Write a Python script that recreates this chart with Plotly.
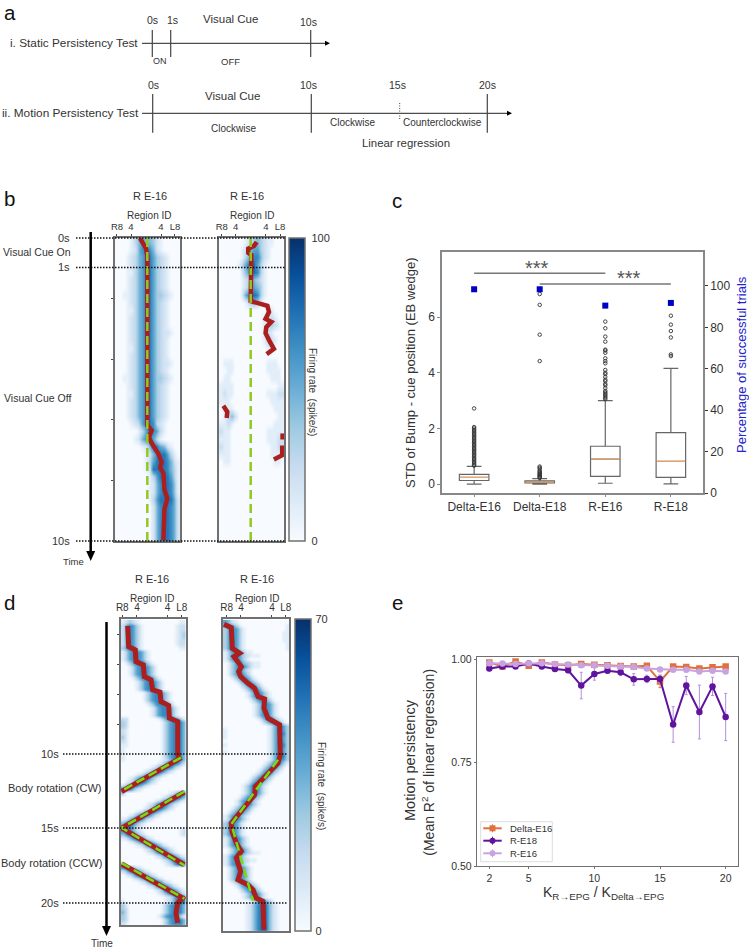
import plotly.graph_objects as go

W, H = 749, 950
FONT = "Liberation Sans"
TXT = "#333333"
FRAME = "#707070"
RED = "#ac1f1f"
LIME_B = "#93c91e"
LIME_D = "#72dd14"
BLUES = ["#f7fbff", "#deebf7", "#c6dbef", "#9ecae1", "#6baed6", "#4292c6", "#2171b5", "#08519c", "#08306b"]

# panel b heatmaps: one string per 0.25 s, one digit per region (0-9)
B1_ROWS = [
    "000013565542100000", "000012577752100000", "000123568864321000", "000123568864321000",
    "000113568864321000", "000123568864321000", "000123568864321000", "001123568864432100",
    "000123568864321000", "000113568864321000", "000123568864321000", "000123568864321000",
    "000123568864322100", "000123568864321000", "000113568864321000", "000123568864321000",
    "000123568864322100", "000123568864321000", "001123568864432100", "000123568864321000",
    "000113568864321000", "000123568864321000", "000123568864321000", "000123568864321000",
    "000012368873210000", "000000136876310000", "000001257763100000", "000000012588652100",
    "000000001257886310", "000000001368887521", "000000001288887531", "000000000136888631",
    "000000000125788741", "000000000125788741", "000000000136888852", "000000000025788752",
    "000000000025788752", "000000000025788752", "000000000025788752", "000000000025788752",
]
B2_ROWS = [
    "000000012343211000", "000000124553210000", "000000135664210000", "000001357753100000",
    "000000246763100000", "000000123432100000", "000000124543100000", "000000256763100000",
    "000000013431000000", "000000000000011000", "000000000000122100", "000000000000123210",
    "000000000000121000", "000000000000132100", "000000000000011000", "000000000000000000",
    "011100000000011100", "001100000000011110", "011000000000001110", "111100000000000011",
    "121100000000011122", "111000000000001111", "011100000000000111", "012420000000000011",
    "112100000000000111", "211000000000011111", "111000000000011122", "211000000000001122",
    "111000000000001111", "011000000000000110", "000000000000000000", "000000000000000000",
    "000000000000000000", "000000000000000000", "000000000000000000", "000000000000000000",
    "000000000000000000", "000000000000000000", "000000000000000000", "000000000000000000",
]
# panel d heatmaps, one string per 0.25 s starting at t = 1 s
D1_ROWS = [
    "123210000000000011", "256531000000000122", "256531000000000122", "256531000000000123",
    "256531000000000123", "256531000000000122", "256531000000000122", "356631000000000011",
    "135665310000000000", "135665310000000000", "135665310000000000", "013566531000000000",
    "001356653100000000", "001356653100000000", "001356653100000000", "000135665310000000",
    "000013566531000000", "000013566531000000", "000013566531000000", "000000135665310000",
    "000000135665310000", "000000135665310000", "000000013566531000", "000000001356653100",
    "000000001356653100", "000000001356653100", "220000000013566531", "320000000001356664",
    "320000000001356664", "210000000001356664", "210000000001356664", "310000000001356664",
    "210000000001356664", "110000000001356664", "100000000001356664", "100000000001356664",
    "100000000001356664", "100000000001246764", "000000000012467642", "000000001246764210",
    "000000124676421000", "000012467642100000", "001246764210000000", "012467642100000000",
    "246764210000000000", "676421000000000000", "300000000000012467", "000000000001246764",
    "000000000124676421", "000000012467642100", "000000124676421000", "000012467642100000",
    "001246764210000000", "124676421000000000", "467642100000000000", "676421000000000000",
    "676421000000000012", "467642100000000012", "124676421000000000", "001246764210000000",
    "000012467642100000", "000000124676421000", "000000012467642100", "000000000124676421",
    "000000000001246764", "300000000000124676", "676421000000000000", "246764210000000000",
    "012467642100000000", "000124676421000000", "000001246764210000", "000000012467642100",
    "000000000124676421", "000000000012467642", "000000000000124676", "100000000000124676",
    "310000000001356664", "320000000001356664", "420000000001356664", "320000000013566531",
    "320000000001356664", "210000000001356664",
]
D2_ROWS = [
    "542100000000000000", "465310000000000001", "356531000000000001", "356531000000000011",
    "356531000000000011", "356531000000000011", "356531000000000001", "356531000000000001",
    "135653110000000000", "135653211100000000", "135653100000000000", "013574321100000000",
    "013576421100000000", "013574210000000000", "013565310000000000", "001356531000000000",
    "000135653100000000", "000013565310000000", "000001356531000000", "000000135653100000",
    "000000135653100000", "000000013565310000", "000000001356531000", "000000001356531000",
    "000000001356531000", "000000001356531000", "000000000135653100", "000000000013565310",
    "000000000000135653", "100000000000135653", "100000000000135663", "100000000000135553",
    "000000000000135653", "100000000000135663", "000000000000135553", "100000000000135653",
    "000000000000135663", "000000000000135653", "000000000001356531", "000000000013565310",
    "000000000135653100", "000000001356531000", "000000013565310000", "000000135653100000",
    "000001357531000000", "000001356531000000", "000001356531000000", "000013565310000000",
    "000135653100000000", "000135653100000000", "001356531000000000", "013565310000000000",
    "135653100000000000", "135653100000000000", "356531000000000000", "356531000000000000",
    "356531000000000000", "356531000000000000", "135653100000000000", "135653100000000000",
    "135653100000000000", "013565310000000000", "013565321100000000", "135653100000000000",
    "135653211000000000", "135653100000000000", "013565310000000000", "013565310000000000",
    "013565310000000000", "013565310000000000", "001356531000000000", "000135653100000000",
    "000013565310000000", "000001356531000000", "000001356531000000", "000000013565310000",
    "000000124677421000", "000000124677421000", "000000124677421000", "000000124677421000",
    "000000124677421000", "000000124677421000", "000000124677421000", "000000124677421000",
]

# bump position (region column) against time (s)
B1_RED_X = [6.4, 8.1, 8.45, 8.45, 9.66, 8.9, 9.66, 11.5, 12.4, 12.0, 12.9, 13.2, 14.0, 13.2, 12.9]
B1_RED_T = [0, 0.35, 0.6, 6.18, 6.35, 6.57, 6.77, 7.12, 7.4, 7.59, 7.76, 8.32, 8.6, 8.93, 9.97]
B1_CUE_X = [8.45, 8.45]
B1_CUE_T = [0, 10]
B2_RED_X = [9.94, 9.2, 7.6, 7.6, 8.45, 8.45, 8.28, 8.45, 8.28, 8.28, 12.9, 13.35, 12.4, 14.0, 12.6, 12.4, 13.35,
            14.0, 14.7, 12.7, None, 0.7, 1.8, 1.63, None, 17.1, 17.1, None, 17.0, 17.0, 14.7]
B2_RED_T = [0.13, 0.26, 0.35, 0.49, 0.56, 0.9, 1.21, 1.45, 1.72, 2.08, 2.24, 2.44, 2.67, 2.77, 2.94, 3.14, 3.37,
            3.53, 3.66, 3.83, None, 5.54, 5.74, 5.94, None, 6.45, 6.65, None, 6.85, 7.17, 7.31]
B2_CUE_X = [8.28, 8.28]
B2_CUE_T = [0, 10]
D1_RED_X = [1.43, 1.71, 3.55, 3.74, 5.77, 6.05, 7.89, 8.35, 10.38, 10.66, 12.78, 12.97, 15.28, 15.28, 15.74, -0.23,
            None, 17.12, -0.23, 17.12, None, -0.23, 16.66, 15.28, 14.81, 15.28]
D1_RED_T = [1.41, 2.8, 3.02, 3.8, 4.03, 4.81, 5.03, 5.7, 5.86, 6.49, 6.75, 7.6, 7.83, 10.07, 10.33, 12.53,
            None, 12.57, 14.99, 17.45, None, 17.4, 19.69, 20.02, 20.69, 21.36]
D1_CUE_X = [16.2, -0.23, None, 17.12, -0.23, 17.12, None, -0.23, 17.12]
D1_CUE_T = [10.25, 12.48, None, 12.53, 14.97, 17.49, None, 17.34, 19.73]
D2_RED_X = [-0.23, 1.77, 2.04, 4.04, 2.5, 4.5, 3.77, 4.31, 6.31, 8.13, 9.04, 10.85, 10.67, 11.76, 14.94, 15.12,
            14.48, 12.21, 10.4, 8.31, 8.13, 5.86, 3.59, 1.77, 1.95, 3.13, 4.5, 3.13, 4.31, 3.59, 6.31, 7.67, 8.58,
            10.4, 10.67]
D2_RED_T = [1.3, 1.52, 2.91, 3.24, 3.47, 4.14, 4.47, 4.81, 5.26, 5.59, 6.15, 6.31, 6.93, 7.61, 8.05, 10.07,
            10.63, 11.18, 11.63, 12.19, 12.75, 13.42, 14.09, 14.65, 15.21, 16.0, 16.55, 17.0, 17.9, 18.46, 18.79,
            19.13, 19.69, 19.91, 21.81]
D2_CUE_X = [14.48, 1.77, 7.67]
D2_CUE_T = [10.4, 14.72, 19.86]

REGION_LABELS = ["R8", "4", "4", "L8"]

# panel c
GROUPS = ["Delta-E16", "Delta-E18", "R-E16", "R-E18"]
BOX_POS = [1, 2, 3, 4]
BOX_Q1 = [0.13, 0.04, 0.28, 0.24]
BOX_MED = [0.24, 0.07, 0.90, 0.82]
BOX_Q3 = [0.35, 0.12, 1.36, 1.85]
BOX_LOW = [0.0, 0.0, 0.03, 0.01]
BOX_HIGH = [0.64, 0.2, 3.0, 4.16]
OUT_DELTA_E16 = [0.66, 0.7, 0.75, 0.8, 0.85, 0.9, 0.95, 1.0, 1.05, 1.1, 1.15, 1.2, 1.25, 1.3, 1.35, 1.4, 1.45, 1.5,
                 1.55, 1.6, 1.65, 1.7, 1.75, 1.8, 1.85, 1.9, 1.95, 2.0, 2.05, 2.72]
OUT_DELTA_E18 = [0.22, 0.25, 0.28, 0.31, 0.34, 0.37, 0.4, 0.44, 0.48, 0.55, 0.59, 0.63, 4.42, 5.37, 6.44, 6.83]
OUT_R_E16 = [3.05, 3.1, 3.15, 3.2, 3.25, 3.3, 3.35, 3.45, 3.55, 3.6, 3.7, 3.75, 3.85, 3.95, 4.0, 4.1, 4.34, 4.42,
             4.52, 4.72, 4.8, 4.83, 5.12, 5.3, 5.6, 5.84]
OUT_R_E18 = [4.6, 4.66, 5.27, 5.5, 5.73, 6.05]
SUCCESS_PCT = [98.4, 98.4, 90.5, 91.8]

# panel e
K_RATIO = [2, 3, 4, 5, 6, 7, 8, 9, 10, 11, 12, 13, 14, 15, 16, 17, 18, 19, 20]
DELTA_E16 = [0.992, 0.982, 0.994, 0.984, 0.992, 0.987, 0.985, 0.988, 0.986, 0.985, 0.983, 0.982, 0.984, 0.946,
             0.982, 0.981, 0.977, 0.980, 0.982]
DELTA_E16_ERR = [0.003, 0.003, 0.003, 0.003, 0.003, 0.003, 0.003, 0.003, 0.003, 0.003, 0.003, 0.003, 0.003, 0.015,
                 0.003, 0.003, 0.003, 0.003, 0.003]
R_E18 = [0.977, 0.982, 0.982, 0.989, 0.982, 0.976, 0.973, 0.936, 0.964, 0.972, 0.968, 0.951, 0.952, 0.952, 0.842,
         0.936, 0.872, 0.934, 0.860]
R_E18_ERR = [0.005, 0.004, 0.004, 0.004, 0.005, 0.006, 0.006, 0.032, 0.015, 0.005, 0.008, 0.014, 0.009, 0.009,
             0.043, 0.022, 0.065, 0.022, 0.057]
R_E16 = [0.990, 0.989, 0.988, 0.989, 0.990, 0.988, 0.987, 0.985, 0.985, 0.984, 0.982, 0.981, 0.977, 0.975, 0.974,
         0.974, 0.970, 0.972, 0.970]
R_E16_ERR = [0.002, 0.002, 0.002, 0.002, 0.002, 0.002, 0.002, 0.002, 0.002, 0.002, 0.002, 0.002, 0.002, 0.002,
             0.002, 0.002, 0.002, 0.002, 0.002]


def px(x):
    return x / W


def py(y):
    return 1 - y / H


fig = go.Figure()


def note(text, x, y, size=11.0, anchor="center", angle=0, color=TXT):
    fig.add_annotation(text=text, x=px(x), y=py(y), xref="paper", yref="paper", showarrow=False,
                       xanchor=anchor, yanchor="middle", textangle=angle,
                       font=dict(family=FONT, size=size, color=color))


def line(x0, y0, x1, y1, color="#333333", width=1.0, dash="solid"):
    fig.add_shape(type="line", xref="paper", yref="paper", x0=px(x0), y0=py(y0), x1=px(x1), y1=py(y1),
                  line=dict(color=color, width=width, dash=dash))


def head(x, y, half, length):
    # triangle pointing along the time direction or to the right
    if length > 0:
        path = f"M {px(x - half)},{py(y)} L {px(x + half)},{py(y)} L {px(x)},{py(y + length)} Z"
    else:
        path = f"M {px(x)},{py(y - half)} L {px(x)},{py(y + half)} L {px(x - length)},{py(y)} Z"
    fig.add_shape(type="path", xref="paper", yref="paper", path=path, fillcolor="black", line=dict(width=0))


def heat_panel(n, rows, coloraxis, unit, y0, red_x, red_t, cue_x, cue_t, lime, box, trange, ticks, tick_size, red_w):
    suffix = "" if n == 1 else str(n)
    fig.add_trace(go.Heatmap(z=[[int(c) * unit for c in r.ljust(18, "0")[:18]] for r in rows], x0=0, dx=1,
                             y0=y0, dy=0.25, coloraxis=coloraxis, zsmooth="best", hoverinfo="skip",
                             xaxis="x" + suffix, yaxis="y" + suffix))
    fig.add_trace(go.Scatter(x=red_x, y=red_t, mode="lines", line=dict(color=RED, width=red_w), showlegend=False,
                             xaxis="x" + suffix, yaxis="y" + suffix))
    fig.add_trace(go.Scatter(x=cue_x, y=cue_t, mode="lines", line=dict(color=lime, width=2.5, dash="9px,5px"),
                             showlegend=False, xaxis="x" + suffix, yaxis="y" + suffix))
    x0_px, x1_px, y0_px, y1_px = box
    fig.update_layout({
        "xaxis" + suffix: dict(domain=[px(x0_px), px(x1_px)], range=[-0.5, 17.5], side="top", anchor="y" + suffix,
                               tickvals=ticks, ticktext=REGION_LABELS, ticks="outside", ticklen=2,
                               tickfont=dict(family=FONT, size=tick_size, color=TXT), showgrid=False, zeroline=False,
                               showline=True, mirror=True, linecolor=FRAME, linewidth=1.5, tickcolor="#444444"),
        "yaxis" + suffix: dict(domain=[py(y1_px), py(y0_px)], range=trange, anchor="x" + suffix, showticklabels=False,
                               showgrid=False, zeroline=False, showline=True, mirror=True, linecolor=FRAME,
                               linewidth=1.5, ticks="outside" if n in (1, 3) else "", ticklen=2,
                               tickvals=[2, 4, 6, 8], tickcolor="#444444"),
    })


heat_panel(1, B1_ROWS, "coloraxis", 100 / 11, 0.125, B1_RED_X, B1_RED_T, B1_CUE_X, B1_CUE_T, LIME_B,
           (115, 180, 238, 541), [10, 0], [0.05, 3.93, 12.24, 16.1], 9.5, 4.5)
heat_panel(2, B2_ROWS, "coloraxis", 100 / 9, 0.125, B2_RED_X, B2_RED_T, B2_CUE_X, B2_CUE_T, LIME_B,
           (219, 284, 238, 541), [10, 0], [0.25, 4.1, 12.5, 16.4], 9.5, 4.5)
heat_panel(3, D1_ROWS, "coloraxis2", 70 / 9, 1.125, D1_RED_X, D1_RED_T, D1_CUE_X, D1_CUE_T, LIME_D,
           (120.7, 185.7, 619, 925), [21.5, 0.94], [-0.06, 4.0, 12.5, 16.4], 10, 5)
heat_panel(4, D2_ROWS, "coloraxis2", 70 / 9, 1.125, D2_RED_X, D2_RED_T, D2_CUE_X, D2_CUE_T, LIME_D,
           (223, 289, 619, 931), [21.9, 0.94], [0.5, 4.4, 12.85, 16.6], 10, 5)

# panel c
fig.add_trace(go.Box(x=BOX_POS, q1=BOX_Q1, median=BOX_MED, q3=BOX_Q3, lowerfence=BOX_LOW, upperfence=BOX_HIGH,
                     width=0.45, whiskerwidth=0.5, boxpoints=False, fillcolor="white", showlegend=False,
                     line=dict(color="#666666", width=1.2), xaxis="x5", yaxis="y5"))
med_x, med_y = [], []
for p, m in zip(BOX_POS, BOX_MED):
    med_x += [p - 0.22, p + 0.22, None]
    med_y += [m, m, None]
fig.add_trace(go.Scatter(x=med_x, y=med_y, mode="lines", line=dict(color="#f2a76a", width=1.2), showlegend=False,
                         xaxis="x5", yaxis="y5"))
for p, vals in zip(BOX_POS, [OUT_DELTA_E16, OUT_DELTA_E18, OUT_R_E16, OUT_R_E18]):
    fig.add_trace(go.Scatter(x=[p] * len(vals), y=vals, mode="markers", showlegend=False,
                             marker=dict(symbol="circle-open", size=3.5, color="#333333", line=dict(width=0.9)),
                             xaxis="x5", yaxis="y5"))
fig.add_trace(go.Scatter(x=[1, 3, None, 2, 4], y=[7.58, 7.58, None, 7.19, 7.19], mode="lines", showlegend=False,
                         line=dict(color="#777777", width=1.5), xaxis="x5", yaxis="y5"))
fig.add_trace(go.Scatter(x=BOX_POS, y=SUCCESS_PCT, mode="markers", showlegend=False,
                         marker=dict(symbol="square", size=6, color="#0000c4"), xaxis="x5", yaxis="y6"))

# panel e
SERIES_E = [
    ("Delta-E16", DELTA_E16, DELTA_E16_ERR, "#e0703c", "square"),
    ("R-E18", R_E18, R_E18_ERR, "#5f139f", "circle"),
    ("R-E16", R_E16, R_E16_ERR, "#c9a3e0", "circle"),
]
for name, vals, errs, color, symbol in SERIES_E:
    fig.add_trace(go.Scatter(x=K_RATIO, y=vals, name=name, mode="lines+markers", showlegend=False,
                             line=dict(color=color, width=2), marker=dict(symbol=symbol, size=6.5, color=color),
                             error_y=dict(type="data", array=errs, thickness=1,
                                          color="#b48fd8" if name == "R-E18" else color, width=1.5),
                             xaxis="x6", yaxis="y7"))

# the plotly legend cannot pack rows this tightly, so panel e's key is drawn by hand
fig.add_shape(type="rect", xref="paper", yref="paper", x0=px(480.7), x1=px(552.3), y0=py(861.7), y1=py(821.7),
              fillcolor="white", line=dict(color="#dddddd", width=1))
for (name, _, _, color, symbol), y in zip(SERIES_E, [828.3, 840.7, 853.3]):
    line(483.3, y, 501.7, y, color, 2)
    line(492.5, y - 4, 492.5, y + 4, color, 1)
    fig.add_shape(type="rect" if symbol == "square" else "circle", xref="paper", yref="paper",
                  x0=px(489.5), x1=px(495.5), y0=py(y + 3), y1=py(y - 3), fillcolor=color, line=dict(width=0))
    note(name, 507.7, y, 9.5, "left")

# panel a
line(142, 43.3, 325, 43.3, "#222222", 1)
head(325, 43.3, 2.5, -5)
for x in [152.3, 170.7, 310.7]:
    line(x, 30, x, 57, "#444444", 1.2)
line(142, 113.3, 507, 113.3, "#222222", 1)
head(507, 113.3, 2.5, -5)
for x in [152.7, 311.3, 487.3]:
    line(x, 94, x, 132.7, "#444444", 1.2)
line(399.7, 103, 399.7, 120, "#444444", 1, "1px,1.5px")
for text, x, y, size in [
    ("0s", 152.6, 20.5, 10.5), ("1s", 172, 20.5, 10.5), ("Visual Cue", 231, 19, 11.5), ("10s", 308, 22.5, 10.5),
    ("ON", 160, 61, 9), ("OFF", 231, 61, 9.5), ("0s", 153, 84.5, 10.5), ("10s", 308, 84.5, 10.5),
    ("15s", 397, 84.5, 10.5), ("20s", 487, 84.5, 10.5), ("Visual Cue", 232, 96, 11.5), ("Clockwise", 233, 128, 10),
    ("Clockwise", 352, 122, 10), ("Counterclockwise", 442, 122.5, 10), ("Linear regression", 405.5, 143, 11.4),
]:
    note(text, x, y, size)
note("i. Static Persistency Test", 140, 43.5, 11.8, "right")
note("ii. Motion Persistency Test", 141, 113.5, 11.8, "right")

# panel letters
for text, x, y in [("a", 2, 12.5), ("b", 2, 199), ("c", 390, 200), ("d", 2, 602), ("e", 390, 602)]:
    note(text, x, y, 20.5, "left", color="#111111")

# panel b annotations
note("R E-16", 149.5, 196, 11)
note("R E-16", 246.5, 196, 11)
note("Region ID", 148.7, 215.7, 10)
note("Region ID", 252, 215.7, 10)
for y in [238, 267.5, 541]:
    line(76, y, 285, y, "#111111", 1.5, "1.5px,1.5px")
line(90.7, 232, 90.7, 551, "black", 2.5)
head(90.7, 551, 4.5, 10)
note("0s", 72, 238, 11, "right")
note("Visual Cue On", 73, 252, 10.5, "right")
note("1s", 72, 267, 11, "right")
note("Visual Cue Off", 73, 398, 10.5, "right")
note("10s", 72, 541, 11, "right")
note("Time", 73, 561, 9.5)
note("Firing rate  (spike/s)", 313, 392, 10, angle=90)

# panel d annotations
note("R E-16", 152, 579, 11)
note("R E-16", 257, 579, 11)
note("Region ID", 151.7, 598, 10)
note("Region ID", 257, 598, 10)
for y in [754, 828, 903]:
    line(63, y, 288, y, "#111111", 1.5, "1.5px,1.5px")
line(106.5, 622, 106.5, 926, "black", 2.5)
head(106.5, 926, 4.5, 10)
note("10s", 61, 754, 11, "right")
note("15s", 61, 828, 11, "right")
note("20s", 61, 903, 11, "right")
note("Body rotation (CW)", 104, 788, 11, "right")
note("Body rotation (CCW)", 104, 863, 11, "right")
note("Time", 102, 943, 10)
note("Firing rate  (spike/s)", 322, 786, 10, angle=90)

# panel c annotations
note("STD of Bump - cue position (EB wedge)", 410, 373, 13, angle=-90)
note("Percentage of successful trials", 741, 365, 13, angle=-90, color="#2222cc")
note("***", 537, 268, 20, color="#555555")
note("***", 629, 278, 20, color="#555555")

# panel e annotations
note("Motion persistency", 410, 760, 14.5, angle=-90)
note("(Mean R<sup>2</sup> of linear regression)", 427.7, 762, 14, angle=-90)
note("K<sub>R→EPG</sub> / K<sub>Delta→EPG</sub>", 603, 893, 14)

tick_font = dict(family=FONT, size=12, color=TXT)
fig.update_layout(
    width=W, height=H, margin=dict(l=0, r=0, t=0, b=0, autoexpand=False),
    paper_bgcolor="white", plot_bgcolor="white", font=dict(family=FONT, color=TXT), showlegend=False,
    coloraxis=dict(cmin=0, cmax=100, colorscale=BLUES, colorbar=dict(
        x=px(289), xanchor="left", xpad=0, y=py(541), yanchor="bottom", ypad=0, len=303 / H, thickness=16,
        tickvals=[0, 100], ticks="outside", ticklen=4, tickcolor="rgba(0,0,0,0)", outlinecolor=FRAME, outlinewidth=1.5,
        tickfont=dict(family=FONT, size=11, color=TXT))),
    coloraxis2=dict(cmin=0, cmax=70, colorscale=BLUES, colorbar=dict(
        x=px(295), xanchor="left", xpad=0, y=py(931), yanchor="bottom", ypad=0, len=312 / H, thickness=16,
        tickvals=[0, 70], ticks="outside", ticklen=2, tickcolor="rgba(0,0,0,0)", outlinecolor=FRAME, outlinewidth=1.5,
        tickfont=dict(family=FONT, size=11, color=TXT))),
    xaxis5=dict(domain=[px(442), px(703)], range=[0.51, 4.49], anchor="y5", tickvals=BOX_POS, ticktext=GROUPS,
                ticks="outside", ticklen=2, tickcolor="#888888", tickfont=tick_font, showgrid=False, zeroline=False,
                showline=True, mirror=True, linecolor="#888888", linewidth=1.5),
    yaxis5=dict(domain=[py(493), py(252)], range=[-0.32, 8.34], anchor="x5", tickvals=[0, 2, 4, 6], ticks="outside",
                ticklen=3, tickcolor="#888888", tickfont=tick_font, showgrid=False, zeroline=False, showline=True,
                linecolor="#888888", linewidth=1.5),
    yaxis6=dict(domain=[py(493), py(252)], range=[0, 116.4], anchor="x5", overlaying="y5", side="right",
                tickvals=[0, 20, 40, 60, 80, 100], ticks="outside", ticklen=3, tickcolor="#333333", tickfont=tick_font,
                showgrid=False, zeroline=False, showline=True, linecolor="#888888", linewidth=1.5),
    xaxis6=dict(domain=[px(476.7), px(738)], range=[1.04, 20.94], anchor="y7", tickvals=[2, 5, 10, 15, 20],
                ticks="outside", ticklen=2, tickcolor=FRAME, tickfont=dict(family=FONT, size=10.5, color=TXT),
                showgrid=False, zeroline=False, showline=True, mirror=True, linecolor=FRAME, linewidth=1),
    yaxis7=dict(domain=[py(866), py(657)], range=[0.5, 1.005], anchor="x6", tickvals=[0.5, 0.75, 1.0],
                tickformat=".2f", ticks="outside", ticklen=2, tickcolor=FRAME,
                tickfont=dict(family=FONT, size=10.5, color=TXT), showgrid=False, zeroline=False, showline=True,
                mirror=True, linecolor=FRAME, linewidth=1),
)

# the default page keeps an 8px body margin, which would push the figure off the window
fig.write_html("out.html", config={"displayModeBar": False}, post_script="document.body.style.margin='0';")
